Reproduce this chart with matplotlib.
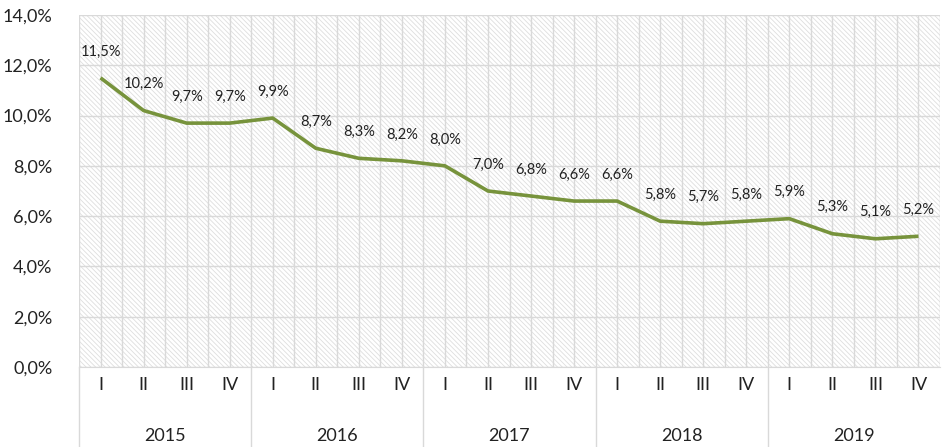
import matplotlib.pyplot as plt
from matplotlib.patches import Rectangle
from matplotlib.ticker import FuncFormatter, MultipleLocator
import matplotlib.transforms as mtransforms

plt.rcParams['font.family'] = ['Lato', 'DejaVu Sans']
plt.rcParams['hatch.linewidth'] = 0.6

years = ['2015', '2016', '2017', '2018', '2019']
quarters = ['I', 'II', 'III', 'IV']
values = [11.5, 10.2, 9.7, 9.7, 9.9, 8.7, 8.3, 8.2, 8.0, 7.0,
          6.8, 6.6, 6.6, 5.8, 5.7, 5.8, 5.9, 5.3, 5.1, 5.2]

fig = plt.figure(figsize=(9.43, 4.47), dpi=100)
ax = fig.add_axes([79/943, 1 - 367/447, 861/943, 352/447])

x = list(range(len(values)))
ax.set_xlim(-0.5, len(values) - 0.5)
ax.set_ylim(0, 14)

# hatched background
ax.add_patch(Rectangle((0, 0), 1, 1, transform=ax.transAxes, facecolor='white',
                       edgecolor='#dedede', hatch='\\' * 7, lw=0, zorder=0))

# grid
ax.yaxis.set_major_locator(MultipleLocator(2))
ax.set_xticks(x)
ax.set_xticks([i - 0.5 for i in range(len(values) + 1)], minor=True)
ax.grid(True, which='major', color='#d9d9d9', lw=1)
ax.grid(True, which='minor', axis='x', color='#d9d9d9', lw=1)
ax.set_axisbelow(True)

for s in ['top', 'right', 'left']:
    ax.spines[s].set_visible(False)
ax.spines['bottom'].set_color('#d9d9d9')

ax.plot(x, values, color='#77933c', lw=2.6, zorder=3, solid_capstyle='butt')

for xi, v in zip(x, values):
    ax.annotate(f'{v:.1f}%'.replace('.', ','), (xi, v), xytext=(0, 19),
                textcoords='offset points', ha='center', va='center',
                fontsize=10.5, color='#222222')

ax.yaxis.set_major_formatter(FuncFormatter(lambda v, p: f'{v:.1f}%'.replace('.', ',')))
ax.tick_params(axis='y', length=0, labelsize=13, pad=19, colors='#222222')
ax.tick_params(axis='x', which='both', length=0, labelsize=13, pad=7, colors='#222222')
ax.set_xticklabels(quarters * len(years))

trans = mtransforms.blended_transform_factory(ax.transData, ax.transAxes)
for i, yr in enumerate(years):
    ax.text(i * 4 + 1.5, -0.195, yr, transform=trans, ha='center', va='center',
            fontsize=13, color='#222222')
for i in range(len(years)):
    ax.plot([i * 4 - 0.5, i * 4 - 0.5], [0, -0.24], transform=trans, color='#d9d9d9',
            lw=1, clip_on=False)

fig.savefig('out.png', dpi=100)
